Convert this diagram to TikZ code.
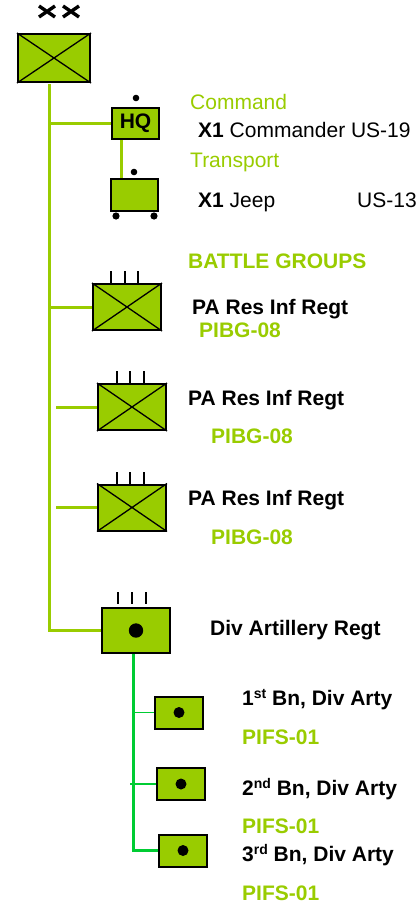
\documentclass[tikz,border=0pt]{standalone}
\usepackage{fontspec}
\setmainfont{Liberation Sans}
\definecolor{lg}{RGB}{153,204,0}
\definecolor{dg}{RGB}{0,204,51}
\newcommand{\supx}[1]{\raisebox{0.33em}{\fontsize{14}{16}\selectfont #1}}
\begin{document}
\begin{tikzpicture}[x=1pt,y=-1pt,
  unit/.style={draw=black,line width=2pt,fill=lg,rectangle,inner sep=0pt,minimum width=68pt,minimum height=46pt},
  smallunit/.style={draw=black,line width=2pt,fill=lg,rectangle,inner sep=0pt,minimum width=48pt,minimum height=32pt},
  crossline/.style={line width=1.3pt},
  link/.style={draw=lg,line width=3pt},
  artlink/.style={draw=dg,line width=3pt},
  tick/.style={line width=2.5pt},
  lbl/.style={anchor=west,inner sep=0pt,text height=15pt,text depth=0pt,font=\fontsize{21}{25}\selectfont},
  lblg/.style={lbl,text=lg},
  xmark/.style={line width=3.4pt}
]
\useasboundingbox (0,0) rectangle (419,905);

% division
\node[unit,minimum width=72pt,minimum height=48pt] (div) at (54,58) {};
\draw[crossline] (div.north west) -- (div.south east) (div.south west) -- (div.north east);
\draw[xmark] (39,6) -- (55,17) (39,17) -- (55,6);
\draw[xmark] (63,6) -- (79,17) (63,17) -- (79,6);

% main line
\coordinate (m0) at (49.5,84);
\node[unit,minimum width=68pt,minimum height=45pt] (art) at (136,630.5) {};
\draw[link] (m0) |- (art.west);

% HQ and jeep
\node[smallunit,minimum width=47pt,minimum height=31pt,font=\bfseries\fontsize{21}{24}\selectfont] (hq) at (135.5,123.5) {HQ};
\node[smallunit,minimum width=47pt,minimum height=32pt] (jeep) at (134.5,195) {};
\draw[link] (m0 |- hq.west) -- (hq.west);
\coordinate (hj) at (121,0);
\draw[link] (hj |- hq.south) -- (hj |- jeep.north);
\fill (136,98) circle (3.3);
\fill (134,172) circle (3.3);
\fill (116,216) circle (3.6);
\fill (154,216) circle (3.6);

\node[lblg] (cmd) at (190,102) {Command};
\node[lbl] (cmdr) at (198,130) {\textbf{X1} Commander US-19};
\node[lblg] (trn) at (190,160) {Transport};
\node[lbl] (jp) at (198,200) {\textbf{X1} Jeep};
\node[lbl] (us13) at (357,200) {US-13};

% battle groups
\node[lblg,font=\bfseries\fontsize{21}{25}\selectfont] (bgt) at (188,261) {BATTLE GROUPS};

\node[unit] (bg1) at (127,307) {};
\draw[crossline] (bg1.north west) -- (bg1.south east) (bg1.south west) -- (bg1.north east);
\draw[tick] (111,271) -- (111,283) (125,271) -- (125,283) (138,271) -- (138,283);
\draw[link] (m0 |- bg1.west) -- (bg1.west);
\node[lbl,font=\bfseries\fontsize{21}{25}\selectfont] (bg1a) at (192,307) {PA Res Inf Regt};
\node[lblg,font=\bfseries\fontsize{21}{25}\selectfont] (bg1b) at (199,330) {PIBG-08};

\node[unit] (bg2) at (132,407) {};
\draw[crossline] (bg2.north west) -- (bg2.south east) (bg2.south west) -- (bg2.north east);
\draw[tick] (117,371) -- (117,383) (130,371) -- (130,383) (144,371) -- (144,383);
\draw[link] ([xshift=6.5pt]m0 |- bg2.west) -- (bg2.west);
\node[lbl,font=\bfseries\fontsize{21}{25}\selectfont] (bg2a) at (188,398) {PA Res Inf Regt};
\node[lblg,font=\bfseries\fontsize{21}{25}\selectfont] (bg2b) at (211,436) {PIBG-08};

\node[unit] (bg3) at (132,507.5) {};
\draw[crossline] (bg3.north west) -- (bg3.south east) (bg3.south west) -- (bg3.north east);
\draw[tick] (117,472) -- (117,484) (130,472) -- (130,484) (144,472) -- (144,484);
\draw[link] ([xshift=6.5pt]m0 |- bg3.west) -- (bg3.west);
\node[lbl,font=\bfseries\fontsize{21}{25}\selectfont] (bg3a) at (188,498) {PA Res Inf Regt};
\node[lblg,font=\bfseries\fontsize{21}{25}\selectfont] (bg3b) at (211,537) {PIBG-08};

% artillery
\fill (art.center) circle (7.2);
\draw[tick] (118,592) -- (118,604) (132,592) -- (132,604) (146,592) -- (146,604);
\node[lbl,font=\bfseries\fontsize{21}{25}\selectfont] (arta) at (210,628) {Div Artillery Regt};

\node[smallunit] (bn1) at (179,712.5) {};
\node[smallunit] (bn2) at (181,784) {};
\node[smallunit] (bn3) at (183,850.5) {};
\fill (bn1.center) circle (5.5);
\fill (bn2.center) circle (5.5);
\fill (bn3.center) circle (5.5);
\coordinate (av) at (133,0);
\draw[artlink] (av |- art.south) -- (av |- bn3.west) -- (bn3.west);
\draw[draw=dg,line width=1.8pt] (av |- bn1.west) -- (bn1.west);
\draw[draw=dg,line width=1.8pt] ([xshift=-3pt]av |- bn2.west) -- (bn2.west);

\node[lbl,font=\bfseries\fontsize{21}{25}\selectfont] (bn1a) at (242,698) {1\supx{st} Bn, Div Arty};
\node[lblg,font=\bfseries\fontsize{21}{25}\selectfont] (bn1b) at (242,737) {PIFS-01};
\node[lbl,font=\bfseries\fontsize{21}{25}\selectfont] (bn2a) at (242,788) {2\supx{nd} Bn, Div Arty};
\node[lblg,font=\bfseries\fontsize{21}{25}\selectfont] (bn2b) at (242,826) {PIFS-01};
\node[lbl,font=\bfseries\fontsize{21}{25}\selectfont] (bn3a) at (242,854) {3\supx{rd} Bn, Div Arty};
\node[lblg,font=\bfseries\fontsize{21}{25}\selectfont] (bn3b) at (242,893) {PIFS-01};
\end{tikzpicture}
\end{document}
